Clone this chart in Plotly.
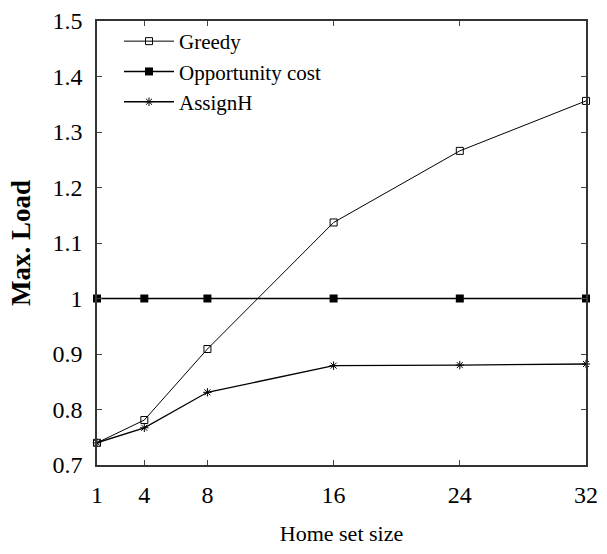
import plotly.graph_objects as go

# Home set sizes on the x axis
home_set_size = [1, 4, 8, 16, 24, 32]

# Maximum load per algorithm
greedy = [0.740, 0.781, 0.909, 1.137, 1.266, 1.356]
opportunity_cost = [1.0, 1.0, 1.0, 1.0, 1.0, 1.0]
assign_h = [0.740, 0.767, 0.831, 0.879, 0.880, 0.882]

x_ticks = [1, 4, 8, 16, 24, 32]
y_ticks = [0.7, 0.8, 0.9, 1.0, 1.1, 1.2, 1.3, 1.4, 1.5]
y_tick_text = ["0.7", "0.8", "0.9", "1", "1.1", "1.2", "1.3", "1.4", "1.5"]

serif = "Liberation Serif"

fig = go.Figure()
fig.add_trace(go.Scatter(
    x=home_set_size, y=greedy, name="Greedy", mode="lines+markers",
    line=dict(color="black", width=1),
    marker=dict(symbol="square-open", size=7, color="black", line=dict(width=1)),
    cliponaxis=False,
))
fig.add_trace(go.Scatter(
    x=home_set_size, y=opportunity_cost, name="Opportunity cost", mode="lines+markers",
    line=dict(color="black", width=1.5),
    marker=dict(symbol="square", size=8, color="black"),
    cliponaxis=False,
))
fig.add_trace(go.Scatter(
    x=home_set_size, y=assign_h, name="AssignH", mode="lines+markers",
    line=dict(color="black", width=1.3),
    marker=dict(symbol="asterisk-open", size=7, color="black", line=dict(width=1, color="black")),
    cliponaxis=False,
))

axis_common = dict(
    showline=True, linecolor="#333", linewidth=1.5, mirror="allticks",
    ticks="inside", ticklen=5, tickwidth=1.2, tickcolor="#444",
    showgrid=False, zeroline=False, automargin=False,
    tickfont=dict(family=serif, size=24, color="black"),
)

fig.update_layout(
    width=607, height=554,
    margin=dict(l=97, r=21, t=21, b=89),
    paper_bgcolor="white", plot_bgcolor="white",
    font=dict(family=serif, color="black"),
    xaxis=dict(
        range=[1, 32], tickvals=x_ticks, ticktext=[str(v) for v in x_ticks],
        ticklabelstandoff=7,
        title=dict(text="Home set size", font=dict(family=serif, size=22), standoff=19),
        **axis_common,
    ),
    yaxis=dict(
        range=[0.7, 1.5], tickvals=y_ticks, ticktext=y_tick_text,
        ticklabelstandoff=8,
        title=dict(text="<b>Max. Load</b>", font=dict(family=serif, size=27), standoff=14),
        **axis_common,
    ),
    legend=dict(
        x=0.045, y=1.0, xanchor="left", yanchor="top",
        bgcolor="rgba(0,0,0,0)", borderwidth=0,
        font=dict(family=serif, size=21, color="black"),
        tracegroupgap=0, itemwidth=50,
    ),
    showlegend=True,
)

fig.write_html("out.html")
